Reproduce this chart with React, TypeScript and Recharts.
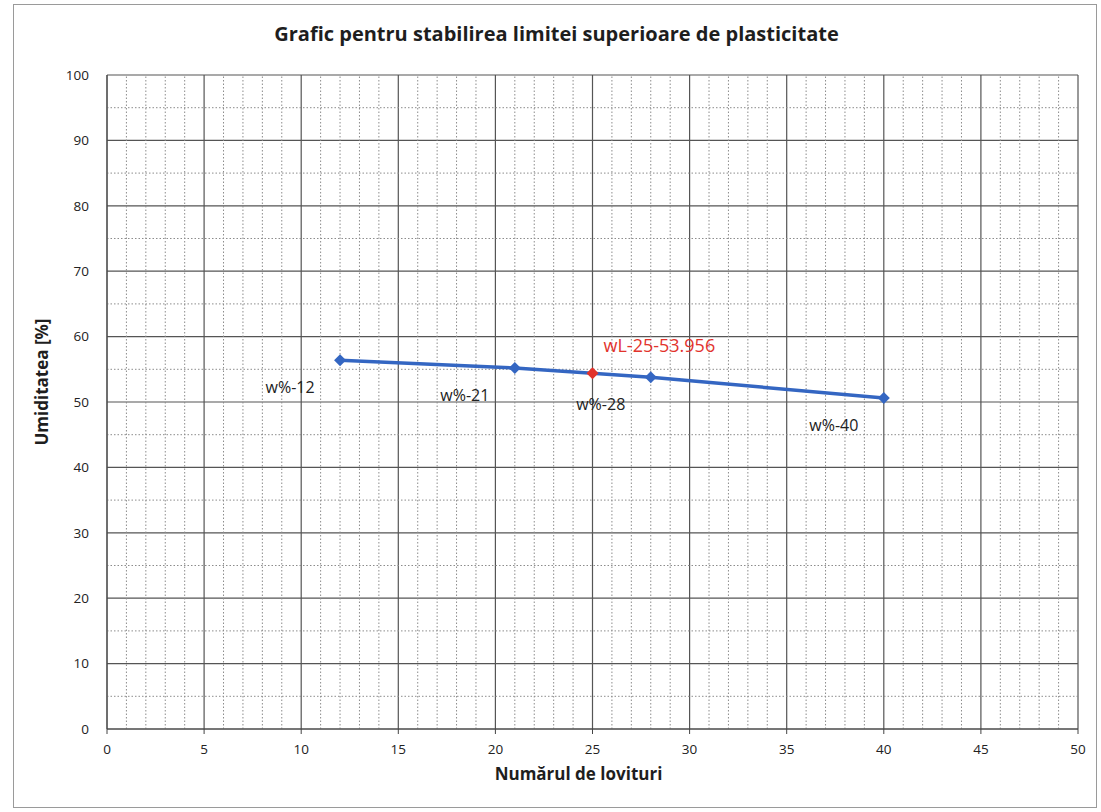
import {
  ComposedChart,
  Line,
  Scatter,
  XAxis,
  YAxis,
  CartesianGrid,
  ReferenceLine,
  LabelList,
} from "recharts";

// Puncte experimentale (nr. lovituri / umiditate)
const blows = [12, 21, 28, 40];
const moisture = [56.4, 55.2, 53.8, 50.6];
const pointLabels = ["w%-12", "w%-21", "w%-28", "w%-40"];

// Limita superioara de plasticitate
const limitBlows = [25];
const limitMoisture = [54.4];
const limitLabels = ["wL-25-53.956"];

const xTicks = [0, 5, 10, 15, 20, 25, 30, 35, 40, 45, 50];
const yTicks = [0, 10, 20, 30, 40, 50, 60, 70, 80, 90, 100];
const xMinor = [
  1, 2, 3, 4, 6, 7, 8, 9, 11, 12, 13, 14, 16, 17, 18, 19, 21, 22, 23, 24,
  26, 27, 28, 29, 31, 32, 33, 34, 36, 37, 38, 39, 41, 42, 43, 44, 46, 47, 48, 49,
];
const yMinor = [5, 15, 25, 35, 45, 55, 65, 75, 85, 95];

const BLUE = "#3466c2";
const RED = "#e2332c";
const FONT = "'Open Sans', sans-serif";

const lineData = blows.map((b, i) => ({ x: b, y: moisture[i], label: pointLabels[i] }));
const limitData = limitBlows.map((b, i) => ({ x: b, y: limitMoisture[i], label: limitLabels[i] }));

const diamond = (color: string) => (props: any) => {
  const { cx, cy, index } = props;
  if (cx == null || cy == null) return <g key={index} />;
  const r = 6;
  return (
    <polygon
      key={index}
      points={`${cx},${cy - r} ${cx + r},${cy} ${cx},${cy + r} ${cx - r},${cy}`}
      fill={color}
    />
  );
};

export default function App() {
  return (
    <div style={{ position: "absolute", left: 0, top: 0, width: 1101, height: 812, background: "#fff", fontFamily: FONT }}>
      <div style={{ position: "absolute", left: 13, top: 4, width: 1082, height: 802, border: "1px solid #9a9a9a" }} />
      <div style={{ position: "absolute", left: 6, top: 20, width: 1101, textAlign: "center", fontSize: 20, fontWeight: 700, color: "#1e1e1e" }}>
        Grafic pentru stabilirea limitei superioare de plasticitate
      </div>
      <div
        style={{
          position: "absolute",
          left: 41,
          top: 382,
          transform: "translate(-50%, -50%) rotate(-90deg)",
          fontSize: 17,
          fontWeight: 700,
          color: "#1e1e1e",
          whiteSpace: "nowrap",
        }}
      >
        Umiditatea [%]
      </div>
      <div style={{ position: "absolute", left: 28, top: 762, width: 1101, textAlign: "center", fontSize: 17, fontWeight: 700, color: "#1e1e1e" }}>
        Numărul de lovituri
      </div>
      <div style={{ position: "absolute", left: 0, top: 0 }}>
        <ComposedChart width={1101} height={812} margin={{ top: 75, right: 23, bottom: 53, left: 47 }}>
          <XAxis
            type="number"
            dataKey="x"
            domain={[0, 50]}
            ticks={xTicks}
            interval={0}
            axisLine={{ stroke: "#444" }}
            tickLine={{ stroke: "#444" }}
            tickSize={5}
            tickMargin={10}
            height={30}
            tick={{ fontSize: 13.5, fill: "#222", fontFamily: FONT }}
          />
          <YAxis
            type="number"
            dataKey="y"
            domain={[0, 100]}
            ticks={yTicks}
            interval={0}
            axisLine={{ stroke: "#444" }}
            tickLine={false}
            tickMargin={12}
            width={60}
            tick={{ fontSize: 13.5, fill: "#222", fontFamily: FONT }}
          />
          {xMinor.map((v) => (
            <ReferenceLine key={"x" + v} x={v} stroke="#8c8c8c" strokeDasharray="1.5 2" />
          ))}
          {yMinor.map((v) => (
            <ReferenceLine key={"y" + v} y={v} stroke="#8c8c8c" strokeDasharray="1.5 2" />
          ))}
          <CartesianGrid stroke="#555" strokeWidth={1.2} />
          <Line
            data={lineData}
            dataKey="y"
            stroke={BLUE}
            strokeWidth={3.5}
            dot={diamond(BLUE)}
            activeDot={false}
            isAnimationActive={false}
          >
            <LabelList
              dataKey="label"
              content={(p: any) => (
                <text x={p.x - 50} y={p.y + 33} textAnchor="middle" fontSize={16} fill="#222" fontFamily={FONT}>
                  {p.value}
                </text>
              )}
            />
          </Line>
          <Scatter data={limitData} dataKey="y" fill={RED} shape={diamond(RED)} isAnimationActive={false}>
            <LabelList
              dataKey="label"
              content={(p: any) => (
                <text x={p.x + p.width / 2 + 11} y={p.y + p.height / 2 - 21} fontSize={18} fill={RED} fontFamily={FONT}>
                  {p.value}
                </text>
              )}
            />
          </Scatter>
        </ComposedChart>
      </div>
    </div>
  );
}
